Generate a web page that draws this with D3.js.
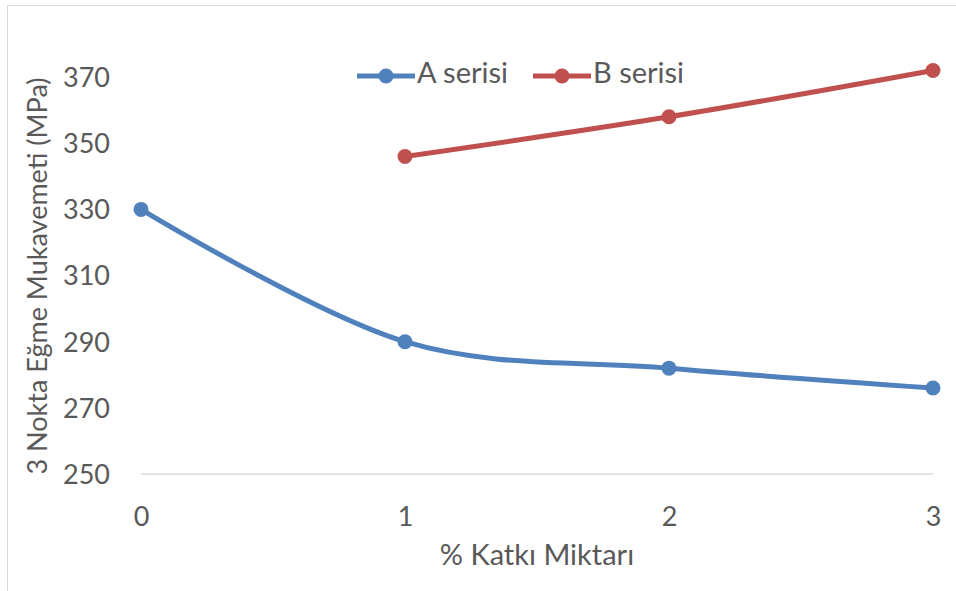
<!DOCTYPE html>
<html>
<head>
<meta charset="utf-8">
<script src="https://cdn.jsdelivr.net/npm/d3@7/dist/d3.min.js"></script>
<style>
  html, body { margin: 0; padding: 0; background: #fff; }
  svg { display: block; }
  text { font-family: Lato, "Open Sans", sans-serif; fill: #595959; }
</style>
</head>
<body>
<svg id="chart" width="956" height="591"></svg>
<script>
// Additive amount (%) on the x axis
const xValues = [0, 1, 2, 3];
const xTickLabels = ["0", "1", "2", "3"];
// 3-point bending strength (MPa) per series; null where not measured
const seriesA = [330, 290, 282, 276];
const seriesB = [null, 346, 358, 372];
const seriesNames = ["A serisi", "B serisi"];
const seriesColors = ["#4F81BD", "#C0504D"];
const yTicks = [250, 270, 290, 310, 330, 350, 370];

const svg = d3.select("#chart");
const W = 956, H = 591;

// outer chart frame
svg.append("rect")
  .attr("x", 7.5).attr("y", 5.5)
  .attr("width", W).attr("height", H)
  .attr("fill", "none").attr("stroke", "#D9D9D9").attr("stroke-width", 1);

const plot = { left: 141, right: 933, top: 44, bottom: 474 };

const x = d3.scaleLinear().domain([0, 3]).range([plot.left, plot.right]);
const y = d3.scaleLinear().domain([250, 380]).range([plot.bottom, plot.top]);

// baseline
svg.append("line")
  .attr("x1", plot.left).attr("x2", plot.right)
  .attr("y1", y(250)).attr("y2", y(250))
  .attr("stroke", "#D9D9D9").attr("stroke-width", 1.5);

// y axis labels
const yAxis = d3.axisLeft(y).tickValues(yTicks).tickSize(0).tickPadding(0);
const gy = svg.append("g").attr("transform", `translate(${plot.left - 31},0)`).call(yAxis);
gy.select(".domain").remove();
gy.selectAll("text")
  .attr("font-size", 27).attr("fill", "#595959")
  .style("font-family", "Lato, sans-serif")
  .attr("dy", "0.35em");

// x axis labels
const xAxis = d3.axisBottom(x).tickValues(xValues)
  .tickFormat((d, i) => xTickLabels[i]).tickSize(0).tickPadding(0);
const gx = svg.append("g").attr("transform", `translate(0,${plot.bottom + 43})`).call(xAxis);
gx.select(".domain").remove();
gx.selectAll("text")
  .attr("font-size", 27).attr("fill", "#595959")
  .style("font-family", "Lato, sans-serif")
  .attr("dy", "0.35em");

// axis titles
svg.append("text")
  .attr("x", 537).attr("y", 558)
  .attr("text-anchor", "middle").attr("dominant-baseline", "middle")
  .attr("font-size", 29)
  .text("% Katkı Miktarı");

svg.append("text")
  .attr("transform", `translate(40,276) rotate(-90)`)
  .attr("text-anchor", "middle").attr("dominant-baseline", "middle")
  .attr("font-size", 27)
  .text("3 Nokta Eğme Mukavemeti (MPa)");

// series lines (smoothed) and markers
const allSeries = [seriesA, seriesB];
allSeries.forEach((vals, si) => {
  const pts = xValues.map((xv, i) => ({ x: xv, v: vals[i] })).filter(d => d.v !== null);
  const line = d3.line()
    .x(d => x(d.x)).y(d => y(d.v))
    .curve(d3.curveCatmullRom.alpha(0));
  svg.append("path")
    .datum(pts)
    .attr("d", line)
    .attr("fill", "none")
    .attr("stroke", seriesColors[si])
    .attr("stroke-width", 5)
    .attr("stroke-linejoin", "round");
  svg.selectAll(null)
    .data(pts).enter().append("circle")
    .attr("cx", d => x(d.x)).attr("cy", d => y(d.v))
    .attr("r", 7.5)
    .attr("fill", seriesColors[si]);
});

// legend
const legendItems = [
  { x0: 357, name: seriesNames[0], color: seriesColors[0] },
  { x0: 533, name: seriesNames[1], color: seriesColors[1] }
];
const ly = 76;
legendItems.forEach(it => {
  svg.append("line")
    .attr("x1", it.x0).attr("x2", it.x0 + 58)
    .attr("y1", ly).attr("y2", ly)
    .attr("stroke", it.color).attr("stroke-width", 5);
  svg.append("circle")
    .attr("cx", it.x0 + 29).attr("cy", ly).attr("r", 7.5).attr("fill", it.color);
  svg.append("text")
    .attr("x", it.x0 + 60).attr("y", ly)
    .attr("dominant-baseline", "middle")
    .attr("font-size", 29)
    .text(it.name);
});
</script>
</body>
</html>
